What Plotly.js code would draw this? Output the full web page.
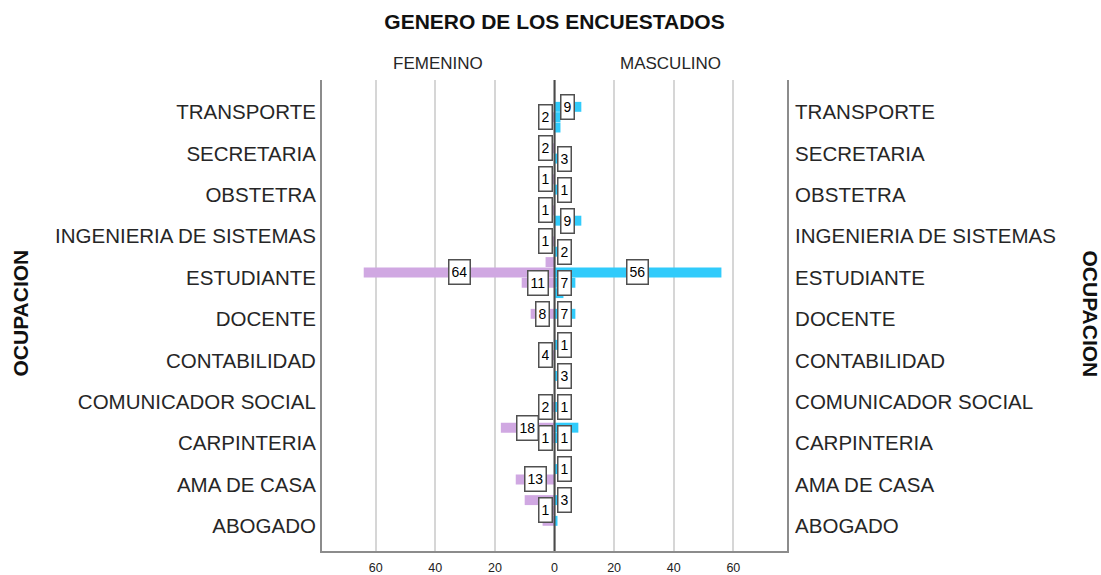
<!DOCTYPE html>
<html>
<head>
<meta charset="utf-8">
<script src="https://cdn.plot.ly/plotly-3.0.1.min.js"></script>
<style>
  html, body { margin: 0; padding: 0; background: #ffffff; }
  #chart { width: 1101px; height: 575px; }
</style>
</head>
<body>
<div id="chart"></div>
<script>
// Occupation categories (coded 1..11, bottom to top)
const occupations = ['ABOGADO', 'AMA DE CASA', 'CARPINTERIA', 'COMUNICADOR SOCIAL', 'CONTABILIDAD',
  'DOCENTE', 'ESTUDIANTE', 'INGENIERIA DE SISTEMAS', 'OBSTETRA', 'SECRETARIA', 'TRANSPORTE'];
const occupationCodes = [1, 2, 3, 4, 5, 6, 7, 8, 9, 10, 11];

// Histogram bins (centre of each bin on the occupation scale)
const bins = [11.125, 10.875, 10.625, 10.125, 9.875, 9.375, 9.125, 8.625, 8.375, 7.875, 7.625, 7.375,
  7.125, 6.875, 6.625, 6.125, 5.375, 5.125, 4.625, 3.875, 3.375, 3.125, 2.375, 2.125, 1.625, 1.375, 1.125];
// Frequencies per bin
const femenino  = [0, 2, 0, 2, 0, 1, 0, 1, 0, 1, 0, 3, 64, 11, 0, 8, 0, 4, 0, 2, 18, 1, 0, 13, 10, 1, 4];
const masculino = [9, 2, 2, 0, 3, 0, 1, 0, 9, 0, 2, 0, 56, 7, 3, 7, 1, 0, 3, 1, 8, 1, 1, 0, 3, 0, 1];
// Data labels visible in the chart (null = label hidden behind others)
const femeninoLabels  = [null, 2, null, 2, null, 1, null, 1, null, 1, null, null, 64, 11, null, 8, null, 4, null, 2, 18, 1, null, 13, null, 1, null];
const masculinoLabels = [9, null, null, null, 3, null, 1, null, 9, null, 2, null, 56, 7, null, 7, 1, null, 3, 1, null, 1, 1, null, 3, null, null];

const xTickVals = [-60, -40, -20, 0, 20, 40, 60];
const xTickText = ['60', '40', '20', '0', '20', '40', '60'];

const binWidth = 0.24;
const xRange = [-78, 78];
const yRange = [0.396, 11.773];
const margin = {l: 322, r: 314, t: 80, b: 24};
const plotW = 1101 - margin.l - margin.r;
const ppu = plotW / (xRange[1] - xRange[0]);
const FONT = 'Arial, Liberation Sans, sans-serif';

function nz(vals, sign) {
  const ys = [], xs = [];
  vals.forEach((v, i) => { if (v > 0) { ys.push(bins[i]); xs.push(sign * v); } });
  return {x: xs, y: ys};
}
const fData = nz(femenino, -1);
const mData = nz(masculino, 1);

const traces = [
  {type: 'bar', orientation: 'h', name: 'FEMENINO', x: fData.x, y: fData.y, width: binWidth,
   marker: {color: '#d0a8e2', line: {width: 0}}, hoverinfo: 'skip', showlegend: false},
  {type: 'bar', orientation: 'h', name: 'MASCULINO', x: mData.x, y: mData.y, width: binWidth,
   marker: {color: '#31cbfb', line: {width: 0}}, hoverinfo: 'skip', showlegend: false},
  {type: 'scatter', mode: 'markers', x: [0], y: [6], yaxis: 'y2', marker: {opacity: 0},
   hoverinfo: 'skip', showlegend: false}
];

const annotations = [];
function addLabel(val, y, side) {
  const txt = String(val);
  const halfW = (txt.length * 7.8 + 7) / 2;
  const centerPx = (val / 2) * ppu;
  const a = {
    x: side * val / 2, y: y, xref: 'x', yref: 'y', text: txt, showarrow: false,
    font: {family: FONT, size: 14, color: '#000'},
    bgcolor: '#ffffff', bordercolor: '#505050', borderwidth: 1.5, borderpad: 2,
    height: 19, xanchor: 'center', yanchor: 'middle'
  };
  if (centerPx - halfW < 2) {
    a.x = 0;
    a.xanchor = side > 0 ? 'left' : 'right';
    a.xshift = side * 2;
  }
  annotations.push(a);
}
bins.forEach((b, i) => {
  if (femeninoLabels[i] != null) addLabel(femeninoLabels[i], b, -1);
  if (masculinoLabels[i] != null) addLabel(masculinoLabels[i], b, 1);
});

const catFont = {family: FONT, size: 20.5, color: '#262626'};
annotations.push(
  {xref: 'paper', yref: 'paper', x: 0.25, y: 1, yshift: 17, text: 'FEMENINO', showarrow: false,
   font: {family: FONT, size: 17, color: '#262626'}, xanchor: 'center', yanchor: 'middle'},
  {xref: 'paper', yref: 'paper', x: 0.75, y: 1, yshift: 17, text: 'MASCULINO', showarrow: false,
   font: {family: FONT, size: 17, color: '#262626'}, xanchor: 'center', yanchor: 'middle'},
  {xref: 'paper', yref: 'paper', x: (20 - margin.l) / plotW, y: 0.5, yshift: 2, text: '<b>OCUPACION</b>', showarrow: false,
   textangle: -90, font: {family: FONT, size: 21, color: '#111'}, xanchor: 'center', yanchor: 'middle'},
  {xref: 'paper', yref: 'paper', x: (1090 - margin.l) / plotW, y: 0.5, yshift: 2, text: '<b>OCUPACION</b>', showarrow: false,
   textangle: 90, font: {family: FONT, size: 21, color: '#111'}, xanchor: 'center', yanchor: 'middle'}
);

const layout = {
  width: 1101, height: 575,
  margin: margin,
  paper_bgcolor: '#ffffff', plot_bgcolor: '#ffffff',
  barmode: 'overlay',
  title: {text: '<b>GENERO DE LOS ENCUESTADOS</b>', x: 0.5, xref: 'paper', y: 1 - 22 / 575, yref: 'container',
          xanchor: 'center', yanchor: 'middle',
          font: {family: FONT, size: 21, color: '#111'}},
  xaxis: {range: xRange, tickvals: xTickVals, ticktext: xTickText, showgrid: true, gridcolor: '#d6d6d6', gridwidth: 2,
          zeroline: false, showline: true, linecolor: '#8c8c8c', linewidth: 2, ticks: '', ticklabelstandoff: 4,
          tickfont: {family: FONT, size: 12.5, color: '#222'}, fixedrange: true},
  yaxis: {range: yRange, tickvals: occupationCodes, ticktext: occupations, showgrid: false, zeroline: false,
          showline: true, linecolor: '#8c8c8c', linewidth: 2, ticks: '', ticklabelstandoff: 0,
          tickfont: catFont, fixedrange: true},
  yaxis2: {range: yRange, tickvals: occupationCodes, ticktext: occupations, overlaying: 'y', side: 'right',
           showgrid: false, zeroline: false, showline: true, linecolor: '#8c8c8c', linewidth: 2, ticks: '',
           ticklabelstandoff: 2, tickfont: catFont, fixedrange: true},
  shapes: [
    {type: 'line', xref: 'x', yref: 'paper', x0: 0, x1: 0, y0: 0, y1: 1, layer: 'above',
     line: {color: '#4a4a4a', width: 2}}
  ],
  annotations: annotations
};

Plotly.newPlot('chart', traces, layout, {displayModeBar: false, staticPlot: true});
</script>
</body>
</html>
